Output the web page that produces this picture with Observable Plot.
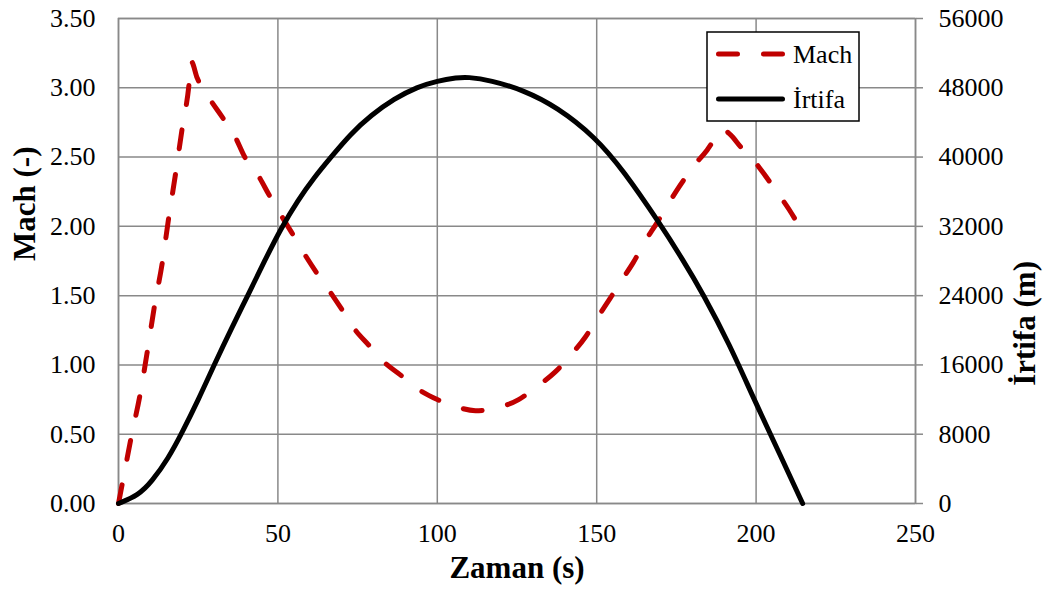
<!DOCTYPE html>
<html><head><meta charset="utf-8">
<script src="https://cdn.jsdelivr.net/npm/d3@7"></script>
<script src="https://cdn.jsdelivr.net/npm/@observablehq/plot@0.6"></script>
<style>body{margin:0;background:#fff}</style>
</head><body><div id="chart"></div>
<script>
// ---- data ----
const machTime   = [0, 2, 4, 6.8, 9.2, 11.25, 13.75, 15.8, 17.9, 20, 22.1, 22.8, 24.7, 28.6, 32.5, 36.5, 39.6, 43.75, 47.4, 51, 54.2, 57.8, 62, 66, 69.8, 74, 78.6, 83.3, 88.3, 94.3, 100, 105.7, 112, 118.75, 125.5, 131, 137, 142.2, 146.4, 150.5, 154.2, 157.8, 161.5, 165.1, 168.75, 172.4, 176, 180.2, 184.6, 187, 189.5, 192, 195.3, 198.4, 202.1, 206.8, 210.4, 215];
const machValues = [0, 0.24, 0.48, 0.79, 1.12, 1.42, 1.74, 2.07, 2.38, 2.71, 3.02, 3.19, 3.07, 2.92, 2.79, 2.65, 2.50, 2.37, 2.22, 2.08, 1.96, 1.82, 1.67, 1.54, 1.41, 1.26, 1.14, 1.02, 0.93, 0.82, 0.75, 0.70, 0.67, 0.69, 0.75, 0.84, 0.95, 1.08, 1.20, 1.35, 1.48, 1.61, 1.74, 1.89, 2.02, 2.16, 2.29, 2.43, 2.55, 2.63, 2.70, 2.66, 2.57, 2.50, 2.39, 2.24, 2.12, 1.94];
const altTime    = [0, 6.25, 10.4, 15.6, 19.8, 25, 30.2, 35.4, 40.6, 45.8, 51, 56.25, 61.5, 66.7, 72.9, 79.2, 86.5, 93.75, 100, 106.25, 109.4, 116.7, 127.1, 137.5, 149.5, 158.3, 169.8, 177.1, 183.3, 191.7, 199, 206.25, 214.6];
const altValues  = [0, 960, 2500, 5200, 8080, 11930, 16160, 20200, 24050, 28000, 31800, 35000, 37710, 40020, 42710, 44830, 46750, 48100, 48800, 49170, 49250, 48870, 47720, 45790, 42330, 38480, 32330, 28100, 24240, 18360, 12310, 6620, 0];
const xTicks     = [0, 50, 100, 150, 200, 250];
const machTicks  = [0, 0.5, 1, 1.5, 2, 2.5, 3, 3.5];
const altTicks   = [0, 8000, 16000, 24000, 32000, 40000, 48000, 56000];
const seriesNames = ["Mach", "İrtifa"];
const axisTitles = {x: "Zaman (s)", left: "Mach (-)", right: "İrtifa (m)"};

const ALT_PER_MACH = altTicks[altTicks.length - 1] / machTicks[machTicks.length - 1];
const mach = machTime.map((t, i) => ({t, v: machValues[i]}));
const alt = altTime.map((t, i) => ({t, v: altValues[i] / ALT_PER_MACH}));

const grid = "#898989";
const red = "#c00000";
const font = "Liberation Serif";

const chart = Plot.plot({
  width: 1044, height: 594,
  marginLeft: 118, marginRight: 129, marginTop: 18, marginBottom: 91,
  style: {fontFamily: font, fontSize: "26px"},
  x: {domain: [0, 250]},
  y: {domain: [0, 3.5]},
  marks: [
    Plot.gridX(xTicks, {stroke: grid, strokeOpacity: 1, strokeWidth: 1.5}),
    Plot.gridY(machTicks, {stroke: grid, strokeOpacity: 1, strokeWidth: 1.5}),
    Plot.frame({stroke: grid, strokeWidth: 1.5}),
    Plot.axisX(xTicks, {anchor: "bottom", tickSize: 0, tickPadding: 20, label: null}),
    Plot.axisY(machTicks, {anchor: "left", tickSize: 0, tickPadding: 23, tickFormat: d3.format(".2f"), label: null}),
    Plot.axisY(machTicks, {anchor: "right", tickSize: 7, tickPadding: 16, stroke: grid, strokeWidth: 1.5, fill: "#000",
      tickFormat: (d, i) => String(altTicks[i]), label: null}),
    Plot.line(mach, {x: "t", y: "v", stroke: red, strokeWidth: 5, strokeDasharray: "19,26", strokeLinecap: "round", curve: "monotone-x"}),
    Plot.line(alt, {x: "t", y: "v", stroke: "#000", strokeWidth: 5, curve: "basis"}),
    Plot.text([axisTitles.x], {frameAnchor: "bottom", dy: 74, fontWeight: "bold"}),
    Plot.text([axisTitles.left], {frameAnchor: "left", dx: -93, rotate: -90, fontWeight: "bold"}),
    Plot.text([axisTitles.right], {frameAnchor: "right", dx: 110, rotate: -90, fontWeight: "bold"})
  ]
});
document.getElementById("chart").appendChild(chart);

const svg = d3.select(chart);
// enlarge axis titles
const titleSet = new Set(Object.values(axisTitles));
svg.selectAll("text").filter(function() { return titleSet.has(this.textContent); }).attr("font-size", 31);

// ---- legend (inside plot area, top right) ----
const lg = svg.append("g").attr("font-family", font).attr("font-size", 26).attr("text-anchor", "start");
lg.append("rect").attr("x", 707).attr("y", 32).attr("width", 152).attr("height", 89)
  .attr("fill", "#fff").attr("stroke", "#000").attr("stroke-width", 1.5);
const items = [
  {name: seriesNames[0], stroke: red, dash: "19,26", y: 54},
  {name: seriesNames[1], stroke: "#000", dash: null, y: 99}
];
items.forEach(it => {
  const l = lg.append("line").attr("x1", 718.5).attr("x2", 782.5).attr("y1", it.y).attr("y2", it.y)
    .attr("stroke", it.stroke).attr("stroke-width", 5).attr("stroke-linecap", "round");
  if (it.dash) l.attr("stroke-dasharray", it.dash);
  lg.append("text").attr("x", 793).attr("y", it.y).attr("dy", "0.35em").attr("text-anchor", "start").text(it.name);
});
</script>
</body></html>
